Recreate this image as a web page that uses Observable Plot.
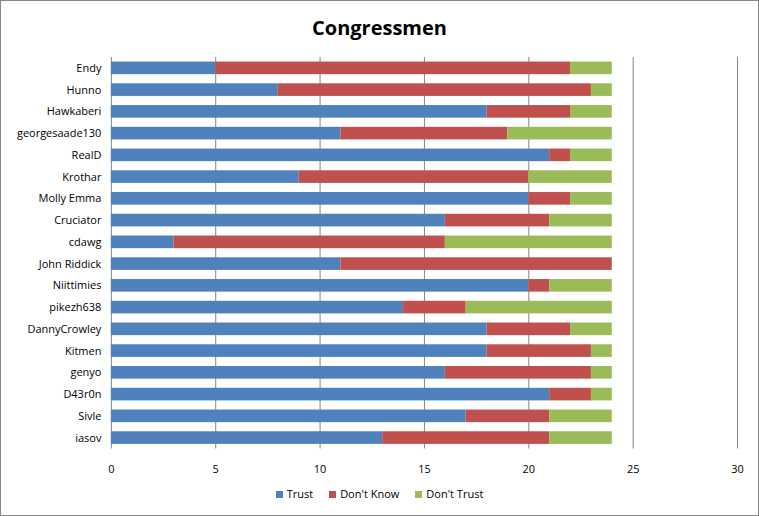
<!DOCTYPE html>
<html><head><meta charset="utf-8">
<script src="https://cdn.jsdelivr.net/npm/d3@7"></script>
<script src="https://cdn.jsdelivr.net/npm/@observablehq/plot@0.6"></script>
<style>
body{margin:0;background:#fff;font-family:"Open Sans",sans-serif;}
#wrap{position:relative;width:759px;height:516px;box-sizing:border-box;border:1px solid #868686;overflow:hidden;}
#title{position:absolute;left:0;top:0;width:757px;height:45px;text-align:center;font-weight:bold;font-size:20px;line-height:53px;color:#000;}
#chart{position:absolute;left:-1px;top:44px;}
#legend{position:absolute;left:0;top:485px;width:757px;display:flex;justify-content:center;gap:16px;font-size:11px;color:#000;}
#legend span.sw{display:inline-block;width:7px;height:7px;margin-right:4px;vertical-align:0px;}
</style></head>
<body>
<div id="wrap">
<div id="title">Congressmen</div>
<div id="chart"></div>
<div id="legend"></div>
</div>
<script>
const names = ["Endy","Hunno","Hawkaberi","georgesaade130","RealD","Krothar","Molly Emma","Cruciator","cdawg","John Riddick","Niittimies","pikezh638","DannyCrowley","Kitmen","genyo","D43r0n","Sivle","iasov"];
const trust     = [5, 8, 18, 11, 21, 9, 20, 16, 3, 11, 20, 14, 18, 18, 16, 21, 17, 13];
const dontKnow  = [17,15, 4,  8,  1, 11, 2,  5, 13, 13, 1,  3,  4,  5,  7,  2,  4,  8];
const dontTrust = [2, 1,  2,  5,  2,  4,  2,  3,  8,  0,  3,  7,  2,  1,  1,  1,  3,  3];
const seriesNames = ["Trust","Don't Know","Don't Trust"];
const colors = ["#4F81BD","#C0504D","#9BBB59"];
const xTicks = [0,5,10,15,20,25,30];

const data = [];
names.forEach((n,i)=>{
  data.push({name:n, series:"Trust", value:trust[i]});
  data.push({name:n, series:"Don't Know", value:dontKnow[i]});
  data.push({name:n, series:"Don't Trust", value:dontTrust[i]});
});

const chart = Plot.plot({
  width: 759,
  height: 440,
  marginLeft: 111,
  marginRight: 21,
  marginTop: 12,
  marginBottom: 36,
  style: {fontFamily: "'Open Sans', sans-serif", fontSize: "11px", color: "#000", background: "transparent"},
  x: {domain: [0,30], ticks: xTicks, tickSize: 0, tickPadding: 16, label: null},
  y: {domain: names, tickSize: 0, tickPadding: 10, label: null, paddingInner: 0.42, paddingOuter: 0.21, round: false},
  color: {domain: seriesNames, range: colors},
  marks: [
    Plot.gridX(xTicks, {stroke: "#868686", strokeOpacity: 1}),
    Plot.barX(data, Plot.stackX({x: "value", y: "name", fill: "series", order: seriesNames})),
    Plot.axisX({ticks: xTicks, tickSize: 0, tickPadding: 16, fontSize: 11}),
    Plot.axisY({tickSize: 0, tickPadding: 10, fontSize: 11})
  ]
});
document.getElementById("chart").appendChild(chart);

const lg = document.getElementById("legend");
seriesNames.forEach((s,i)=>{
  const d = document.createElement("div");
  d.innerHTML = `<span class="sw" style="background:${colors[i]}"></span>${s}`;
  lg.appendChild(d);
});
</script>
</body></html>
